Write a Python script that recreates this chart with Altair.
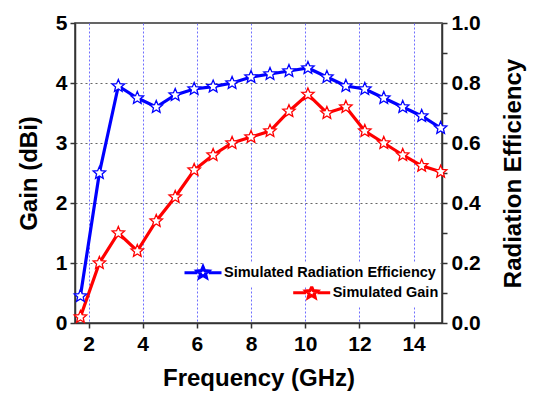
import math
import altair as alt
import pandas as pd

# ---- data ----
freq = [1.7, 2.4, 3.1, 3.8, 4.5, 5.2, 5.9, 6.6, 7.3, 8.0, 8.7, 9.4, 10.1, 10.8,
        11.5, 12.2, 12.9, 13.6, 14.3, 15.0]
gain = [0.1, 1.0, 1.5, 1.2, 1.7, 2.1, 2.55, 2.8, 3.0, 3.1, 3.2, 3.53, 3.81, 3.5,
        3.6, 3.2, 3.0, 2.8, 2.62, 2.52]
efficiency = [0.09, 0.5, 0.79, 0.75, 0.72, 0.76, 0.78, 0.788, 0.8, 0.82, 0.83, 0.84,
              0.85, 0.82, 0.79, 0.78, 0.75, 0.72, 0.69, 0.65]
eff_name = "Simulated Radiation Efficiency"
gain_name = "Simulated Gain"

x_ticks = [2, 4, 6, 8, 10, 12, 14]
gain_ticks = [0, 1, 2, 3, 4, 5]
eff_ticks = [0.0, 0.1, 0.2, 0.3, 0.4, 0.5, 0.6, 0.7, 0.8, 0.9, 1.0]

FONT = "Liberation Sans"
AXIS_COLOR = "#333333"


def star_path(cx=0.0, r_out=1.0, r_in=0.45):
    pts = []
    for k in range(10):
        r = r_out if k % 2 == 0 else r_in
        a = math.radians(-90 + 36 * k)
        pts.append((cx + r * math.cos(a), r * math.sin(a)))
    return "M" + "L".join(f"{x:.3f},{y:.3f}" for x, y in pts) + "Z"


STAR = star_path()
# legend symbol: line + star, drawn to the left of the layout box
LEG_SCALE = 7.0  # sqrt(size)/2
total_w = 37 / LEG_SCALE
left = 1 - total_w
scx = (left + 1) / 2
sr = 6.0 / LEG_SCALE
LEG_SYMBOL = (f"M{left:.3f},0L{scx - sr * 0.95:.3f},0M{scx + sr * 0.95:.3f},0L1,0"
              + star_path(scx, sr, sr * 0.45))

eff_df = pd.DataFrame({"freq": freq, "eff": efficiency, "series": eff_name})
gain_df = pd.DataFrame({"freq": freq, "gain": gain, "series": gain_name})

x_enc = alt.X(
    "freq:Q",
    scale=alt.Scale(domain=[1.5, 15.05], nice=False, zero=False),
    axis=alt.Axis(
        values=x_ticks, title="Frequency (GHz)", grid=True,
        gridColor="#6e6eff", gridDash=[2, 2], gridWidth=1,
        labelFontSize=21, titleFontSize=24, labelPadding=5, titlePadding=12,
        format="d",
    ),
)


def legend(x, y):
    return alt.Legend(
        orient="none", legendX=x, legendY=y, title=None,
        symbolType=LEG_SYMBOL, symbolSize=(2 * LEG_SCALE) ** 2,
        symbolStrokeWidth=3, symbolFillColor="white", symbolOpacity=1,
        labelFont=FONT, labelFontSize=14.5, labelFontWeight="bold",
        labelColor="black", labelOffset=1, labelLimit=0, padding=2,
        fillColor="white",
    )


gain_base = alt.Chart(gain_df).encode(
    x=x_enc,
    y=alt.Y(
        "gain:Q",
        scale=alt.Scale(domain=[0, 5], nice=False),
        axis=alt.Axis(
            values=gain_ticks, title="Gain (dBi)", orient="left", grid=True,
            gridColor="#666666", gridDash=[2, 3], gridWidth=1,
            labelFontSize=21, titleFontSize=24, format="d",
            labelPadding=3, titlePadding=14,
        ),
    ),
    color=alt.Color(
        "series:N",
        scale=alt.Scale(domain=[gain_name], range=["#ff0000"]),
        legend=legend(237.7, 259.2),
    ),
)
gain_layer = alt.layer(
    gain_base.mark_line(strokeWidth=3.2),
    gain_base.mark_point(shape=STAR, size=170, filled=False, fill="white",
                         fillOpacity=1, strokeWidth=1.3, opacity=1),
)

eff_base = alt.Chart(eff_df).encode(
    x=x_enc,
    y=alt.Y(
        "eff:Q",
        scale=alt.Scale(domain=[0, 1], nice=False),
        axis=alt.Axis(
            values=eff_ticks, title="Radiation Efficiency", orient="right",
            grid=False, labelFontSize=21, titleFontSize=24,
            labelExpr="round(datum.value*10) % 2 == 0 ? format(datum.value, '.1f') : ''",
            labelPadding=4, titlePadding=21, titleAngle=270, titleBaseline="top",
        ),
    ),
    color=alt.Color(
        "series:N",
        scale=alt.Scale(domain=[eff_name], range=["#0000ff"]),
        legend=legend(129, 239.2),
    ),
)
eff_layer = alt.layer(
    eff_base.mark_line(strokeWidth=3.2),
    eff_base.mark_point(shape=STAR, size=170, filled=False, fill="white",
                        fillOpacity=1, strokeWidth=1.3, opacity=1),
)

chart = (
    alt.layer(gain_layer, eff_layer)
    .resolve_scale(y="independent", color="independent")
    .resolve_legend(color="independent")
    .properties(
        width=367, height=300,
        autosize=alt.AutoSizeParams(type="none"),
        padding={"left": 75, "top": 23, "right": 91, "bottom": 72},
        background="white",
    )
    .configure_view(stroke=AXIS_COLOR, strokeWidth=1.5)
    .configure_axis(
        labelFont=FONT, titleFont=FONT, labelFontWeight="bold",
        titleFontWeight="bold", labelColor="black", titleColor="black",
        domainColor=AXIS_COLOR, domainWidth=1.5, tickColor=AXIS_COLOR,
        tickWidth=1.5, tickSize=5,
    )
)

chart.save("out.html", embed_options={"renderer": "svg", "actions": False})
